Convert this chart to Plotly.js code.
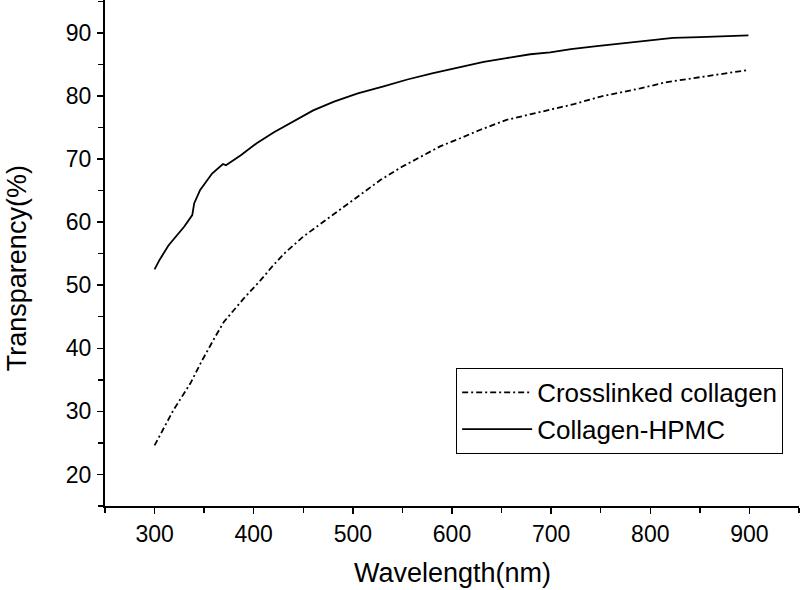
<!DOCTYPE html>
<html>
<head>
<meta charset="utf-8">
<script src="https://cdn.plot.ly/plotly-3.0.1.min.js"></script>
<style>html,body{margin:0;padding:0;background:#fff;}#chart{width:800px;height:590px;}</style>
</head>
<body>
<div id="chart"></div>
<script>
// Collagen-HPMC (solid)
const hpmcWavelength = [300,305,314,323,330,338,340,346,358,369,372,387,403,420,442,460,481,505,531,555,581,605,632,655,679,699,720,746,770,795,823,850,875,899];
const hpmcTransparency = [52.5,54.0,56.3,57.9,59.3,61.1,63.0,65.1,67.7,69.2,69.0,70.6,72.5,74.2,76.2,77.7,79.1,80.4,81.5,82.6,83.6,84.5,85.4,86.0,86.6,86.9,87.4,87.9,88.3,88.8,89.2,89.3,89.4,89.6];
// Crosslinked collagen (dash-dot)
const crossWavelength = [300,319,336,348,360,370,390,407,420,432,450,470,487,505,528,550,571,588,610,628,655,690,723,750,790,817,850,875,899];
const crossTransparency = [24.6,30.2,34.4,38.1,41.5,44.2,47.9,50.8,53.2,55.2,57.7,60.0,61.9,64.0,66.7,68.8,70.6,72.0,73.4,74.6,76.2,77.5,78.7,79.9,81.2,82.2,83.0,83.6,84.1];
const seriesNames = ["Crosslinked collagen", "Collagen-HPMC"];
const xTitle = "Wavelength(nm)";
const yTitle = "Transparency(%)";

const FONT = "Liberation Sans, Arial, sans-serif";
const traces = [
  {x: crossWavelength, y: crossTransparency, name: seriesNames[0], mode: "lines",
   line: {color: "#000", width: 1.8, dash: "6px,3px,2px,3px"}},
  {x: hpmcWavelength, y: hpmcTransparency, name: seriesNames[1], mode: "lines",
   line: {color: "#000", width: 1.8}}
];
const layout = {
  width: 800, height: 590,
  margin: {l: 105, r: 1, t: 0, b: 84},
  paper_bgcolor: "#fff", plot_bgcolor: "#fff",
  font: {family: FONT, color: "#000", size: 22},
  showlegend: true,
  legend: {x: 0.506, y: 0.103, xanchor: "left", yanchor: "bottom",
    bordercolor: "#000", borderwidth: 1, bgcolor: "#fff",
    font: {family: FONT, size: 26, color: "#000"}, itemwidth: 70,
    tracegroupgap: 0},
  xaxis: {range: [250, 950], showgrid: false, zeroline: false,
    showline: true, linecolor: "#000", linewidth: 2,
    ticks: "outside", ticklen: 6, tickwidth: 1.5, tickcolor: "#000",
    tick0: 300, dtick: 100, tickfont: {family: FONT, size: 23},
    minor: {ticks: "outside", ticklen: 5, tickwidth: 1.5, tickcolor: "#000", dtick: 50, tick0: 250, showgrid: false}},
  yaxis: {range: [15, 95.2], showgrid: false, zeroline: false,
    showline: true, linecolor: "#000", linewidth: 2,
    ticks: "outside", ticklen: 6, tickwidth: 1.5, tickcolor: "#000",
    tick0: 20, dtick: 10, tickfont: {family: FONT, size: 23},
    ticklabelstandoff: 1,
    minor: {ticks: "outside", ticklen: 5, tickwidth: 1.5, tickcolor: "#000", dtick: 5, tick0: 15, showgrid: false}},
  annotations: [
    {text: xTitle, xref: "paper", yref: "paper", x: 0.5, y: -0.132,
     xanchor: "center", yanchor: "middle", showarrow: false,
     font: {family: FONT, size: 27, color: "#000"}},
    {text: yTitle, xref: "paper", yref: "paper", x: -0.1268, y: 0.47,
     xanchor: "center", yanchor: "middle", showarrow: false, textangle: -90,
     font: {family: FONT, size: 27, color: "#000"}}
  ]
};
Plotly.newPlot("chart", traces, layout, {displayModeBar: false, staticPlot: true});
</script>
</body>
</html>
